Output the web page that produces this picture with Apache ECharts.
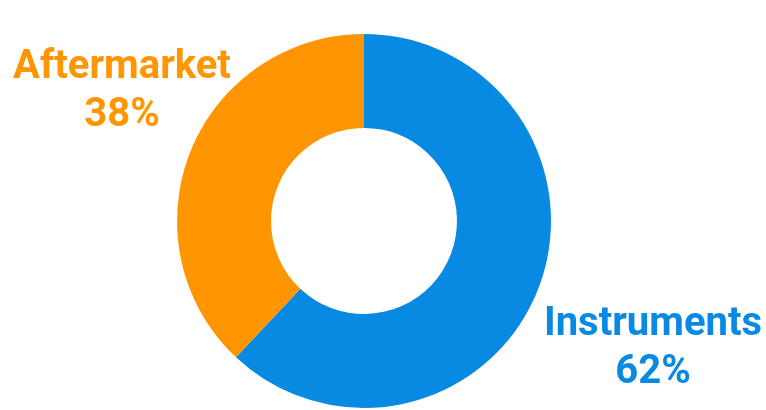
<!DOCTYPE html>
<html>
<head>
<meta charset="UTF-8">
<title>Donut</title>
<script src="https://cdn.jsdelivr.net/npm/echarts@6/dist/echarts.min.js"></script>
<style>
  html, body { margin: 0; padding: 0; background: #fff; }
  #main { width: 766px; height: 410px; }
</style>
</head>
<body>
<div id="main"></div>
<script type="text/javascript">
  // data
  var categories = ['Instruments', 'Aftermarket'];
  var shares = [62, 38];
  var colors = ['#0889E2', '#FF9500'];
  // label centres (px)
  var labelPos = [[653, 349], [122, 92]];

  var myChart = echarts.init(document.getElementById('main'));

  var seriesData = [];
  for (var i = 0; i < categories.length; i++) {
    seriesData.push({
      name: categories[i],
      value: shares[i],
      itemStyle: { color: colors[i] },
      label: { color: colors[i] }
    });
  }

  myChart.setOption({
    animation: false,
    series: [{
      type: 'pie',
      center: [364, 221],
      radius: [93, 187],
      startAngle: 90,
      clockwise: true,
      silent: true,
      label: {
        show: true,
        position: 'outside',
        formatter: '{b}\n{c}%',
        fontFamily: 'Roboto',
        fontWeight: 'bold',
        fontSize: 40,
        lineHeight: 48,
        align: 'center',
        width: 300,
        overflow: 'none'
      },
      labelLine: { show: false },
      labelLayout: function (params) {
        var p = labelPos[params.dataIndex];
        return { x: p[0], y: p[1], align: 'center', verticalAlign: 'middle' };
      },
      data: seriesData
    }]
  });
</script>
</body>
</html>
